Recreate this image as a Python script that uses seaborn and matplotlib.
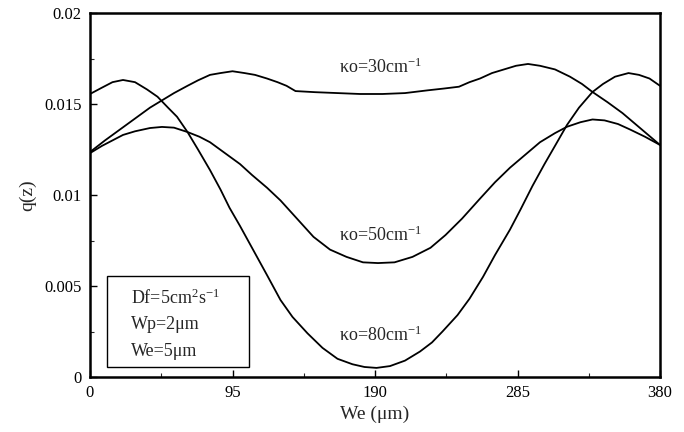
import matplotlib
matplotlib.use("Agg")
import matplotlib.pyplot as plt
from matplotlib.patches import Rectangle
from matplotlib.ticker import MultipleLocator, FixedLocator
import seaborn as sns
import pandas as pd

# ---- data ----
x_k80 = [0, 8, 15, 22, 30, 38, 45, 52, 58, 65, 72, 80, 87, 93, 100, 110, 118,
         127, 135, 145, 155, 165, 175, 183, 191, 200, 210, 220, 228, 235, 245,
         253, 262, 270, 280, 287, 295, 303, 310, 318, 326, 335, 342, 350, 359,
         366, 373, 380]
q_k80 = [0.01555, 0.0159, 0.0162, 0.01632, 0.0162, 0.0158, 0.0154, 0.0148,
         0.0143, 0.01346, 0.0125, 0.01137, 0.0103, 0.0093, 0.0083, 0.0068,
         0.0056, 0.00423, 0.0033, 0.0024, 0.0016, 0.0010, 0.0007, 0.00055,
         0.0005, 0.0006, 0.0009, 0.0014, 0.0019, 0.0025, 0.0034, 0.0043,
         0.0055, 0.0067, 0.0081, 0.0092, 0.0105, 0.0117, 0.0127, 0.01385,
         0.0148, 0.01566, 0.0161, 0.0165, 0.0167, 0.0166, 0.0164, 0.0160]

x_k50 = [0, 8, 15, 22, 30, 40, 48, 56, 65, 73, 80, 90, 100, 108, 118, 127,
         138, 149, 160, 171, 182, 192, 203, 215, 227, 237, 248, 260, 270, 280,
         290, 300, 310, 318, 327, 335, 343, 352, 360, 370, 380]
q_k50 = [0.0123, 0.0127, 0.0130, 0.0133, 0.0135, 0.01368, 0.01374, 0.0137,
         0.01346, 0.0132, 0.0129, 0.0123, 0.0117, 0.0111, 0.0104, 0.0097,
         0.0087, 0.0077, 0.0070, 0.0066, 0.0063, 0.00626, 0.0063, 0.0066,
         0.0071, 0.0078, 0.0087, 0.0098, 0.0107, 0.0115, 0.0122, 0.0129,
         0.0134, 0.01375, 0.0140, 0.01415, 0.0141, 0.0139, 0.0136, 0.0132,
         0.01275]

x_k30 = [0, 10, 20, 30, 40, 48, 56, 65, 72, 80, 87, 95, 103, 110, 118, 125,
         131, 137, 150, 165, 180, 195, 210, 225, 236, 246, 253, 260, 268, 276,
         284, 292, 300, 310, 320, 328, 335, 345, 355, 365, 380]
q_k30 = [0.01236, 0.0130, 0.0136, 0.0142, 0.0148, 0.0152, 0.0156, 0.0160,
         0.0163, 0.0166, 0.0167, 0.0168, 0.0167, 0.0166, 0.0164, 0.0162,
         0.0160, 0.01571, 0.01565, 0.0156, 0.01555, 0.01555, 0.0156, 0.01575,
         0.01585, 0.01595, 0.0162, 0.0164, 0.0167, 0.0169, 0.0171, 0.0172,
         0.0171, 0.0169, 0.0165, 0.0161, 0.01566, 0.0151, 0.0145, 0.0138,
         0.01275]

x_ticks = [0, 95, 190, 285, 380]
y_ticks = [0, 0.005, 0.01, 0.015, 0.02]
y_tick_labels = ["0", "0.005", "0.01", "0.015", "0.02"]

curve_labels = ["κo=30cm$^{-1}$", "κo=50cm$^{-1}$", "κo=80cm$^{-1}$"]
box_lines = ["Df=5cm$^{2}$s$^{-1}$", "Wp=2μm", "We=5μm"]

# ---- styling ----
sns.set_style("ticks")
plt.rcParams["font.family"] = ["Liberation Serif", "DejaVu Serif"]
plt.rcParams["mathtext.fontset"] = "custom"
plt.rcParams["mathtext.rm"] = "Liberation Serif"
plt.rcParams["mathtext.it"] = "Liberation Serif:italic"

df = pd.concat([
    pd.DataFrame({"x": x_k30, "q": q_k30, "k": "30"}),
    pd.DataFrame({"x": x_k50, "q": q_k50, "k": "50"}),
    pd.DataFrame({"x": x_k80, "q": q_k80, "k": "80"}),
])

fig = plt.figure(figsize=(6.84, 4.32), dpi=100)
ax = fig.add_axes([90 / 684, 1 - 377 / 432, 570 / 684, 364 / 432])

sns.lineplot(data=df, x="x", y="q", hue="k", units="k", estimator=None,
             sort=False, palette=["black", "black", "black"], linewidth=1.3,
             legend=False, ax=ax)

ax.set_xlim(0, 380)
ax.set_ylim(0, 0.02)
ax.xaxis.set_major_locator(FixedLocator(x_ticks))
ax.xaxis.set_minor_locator(MultipleLocator(47.5))
ax.yaxis.set_major_locator(FixedLocator(y_ticks))
ax.set_yticklabels(y_tick_labels)
ax.yaxis.set_minor_locator(MultipleLocator(0.0025))
ax.tick_params(which="major", direction="in", length=5, width=1.0,
               labelsize=12, pad=6, colors="black")
ax.tick_params(which="minor", direction="in", length=3, width=0.8)
for s in ax.spines.values():
    s.set_linewidth(1.8)
    s.set_color("black")

ax.set_xlabel("We (μm)", fontsize=14, labelpad=3)
ax.set_ylabel("q(z)", fontsize=14, labelpad=6)

ax.text(166, 0.0170, curve_labels[0], fontsize=13, va="center", ha="left")
ax.text(166, 0.0078, curve_labels[1], fontsize=13, va="center", ha="left")
ax.text(166, 0.0023, curve_labels[2], fontsize=13, va="center", ha="left")

ax.add_patch(Rectangle((0.030, 0.027), 0.249, 0.250, transform=ax.transAxes,
                       fill=False, edgecolor="black", linewidth=1.0))
ax.text(0.072, 0.215, box_lines[0], transform=ax.transAxes, fontsize=13,
        va="center", ha="left")
ax.text(0.072, 0.143, box_lines[1], transform=ax.transAxes, fontsize=13,
        va="center", ha="left")
ax.text(0.072, 0.07, box_lines[2], transform=ax.transAxes, fontsize=13,
        va="center", ha="left")

fig.savefig("out.png", dpi=100)
